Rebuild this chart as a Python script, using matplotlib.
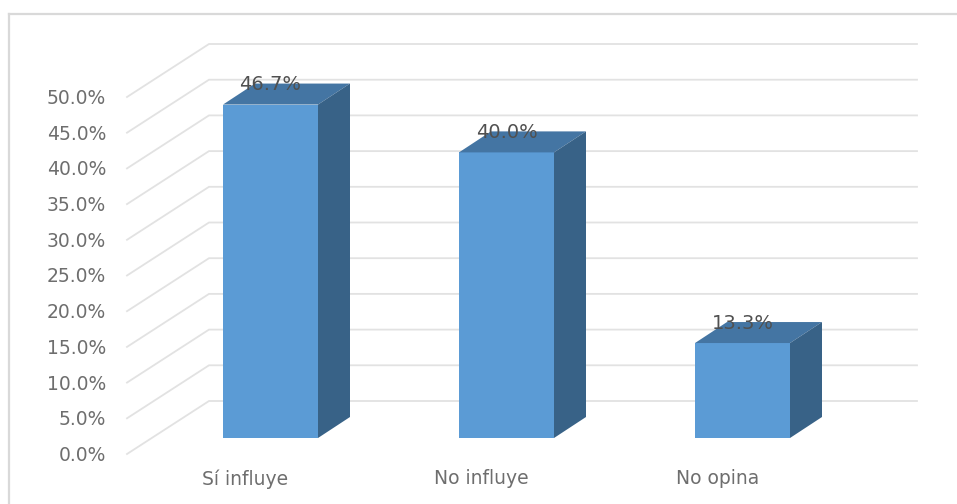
import numpy as np
import matplotlib
matplotlib.use('Agg')
import matplotlib.pyplot as plt
from matplotlib.lines import Line2D
from matplotlib.patches import Polygon

plt.rcParams['font.family'] = ['DejaVu Sans']

categories = ['Sí influye', 'No influye', 'No opina']
values = [46.7, 40.0, 13.3]
value_labels = ['46.7%', '40.0%', '13.3%']
ticks = [0, 5, 10, 15, 20, 25, 30, 35, 40, 45, 50]

W, H = 957, 504
px_x = 236.0   # pixels per category
px_y = 7.14    # pixels per percent
x0 = 270.5     # pixel of first bar centre
y0 = 438.0     # pixel of bar base

fig = plt.figure(figsize=(W/100, H/100), dpi=100)
ax = fig.add_axes([0, 0, 1, 1])
ax.set_xlim(-x0/px_x, (W-x0)/px_x)
ax.set_ylim((y0-H)/px_y, y0/px_y)
ax.axis('off')

# outer frame, cut by the picture on the right and at the bottom
frame = '#d9d9d9'
fig.add_artist(Line2D([9/W, 9/W], [0, 1-14/H], color=frame, lw=1.6))
fig.add_artist(Line2D([9/W, 1], [1-14/H, 1-14/H], color=frame, lw=1.6))

# 3d depth of the chart box and of the bars, in data units
wall_dx = 82/px_x
wall_dy = 53/px_y
front_x = (127-x0)/px_x
back_x = (209-x0)/px_x
end_x = (917-x0)/px_x
front_y = (y0-454)/px_y
bar_w = 95/px_x
bar_dx = 32/px_x
bar_dy = 21/px_y

grid = '#e2e2e2'
for t in ticks:
    yf = front_y + t
    ax.plot([front_x, back_x, end_x], [yf, yf+wall_dy, yf+wall_dy],
            color=grid, lw=1.3, zorder=1, solid_joinstyle='miter')
    ax.text((106-x0)/px_x, yf - 1.5/px_y, '%.1f%%' % t, ha='right', va='center',
            fontsize=13.5, color='#6e6e6e')

for i, v in enumerate(values):
    l = i - bar_w/2
    r = i + bar_w/2
    ax.bar(i, v, width=bar_w, color='#5b9bd5', lw=0, zorder=3)
    ax.add_patch(Polygon([(l, v), (r, v), (r+bar_dx, v+bar_dy), (l+bar_dx, v+bar_dy)],
                         color='#4475a3', lw=0, zorder=3))
    ax.add_patch(Polygon([(r, 0), (r+bar_dx, bar_dy), (r+bar_dx, v+bar_dy), (r, v)],
                         color='#386287', lw=0, zorder=3))
    ax.text(i, v + 2.8, value_labels[i], ha='center', va='center',
            fontsize=14, color='#505050', zorder=4)
    ax.text(i - 25/px_x, (y0-479)/px_y, categories[i], ha='center', va='center',
            fontsize=13.5, color='#6e6e6e')

fig.savefig('out.png', dpi=100)
